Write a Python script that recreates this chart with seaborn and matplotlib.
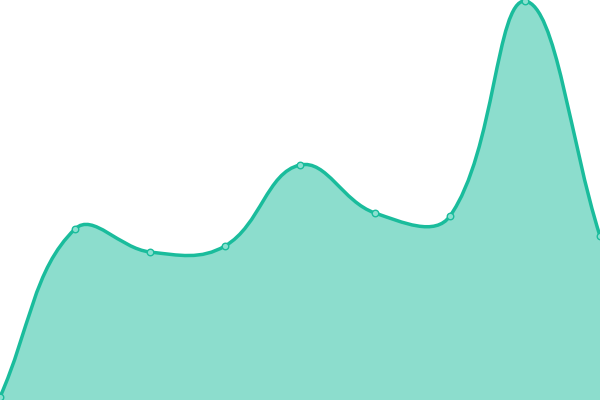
import numpy as np
import pandas as pd
import matplotlib
matplotlib.use("Agg")
import matplotlib.pyplot as plt
from matplotlib.path import Path
from matplotlib.patches import PathPatch
import seaborn as sns

# Data
x_values = [0, 1, 2, 3, 4, 5, 6, 7, 8]
y_values = [3, 171, 148, 154, 235, 187, 184, 399, 164]

LINE = "#1abc9c"
FILL = (26/255, 188/255, 156/255, 0.5)
X_MAX = 8
Y_MAX = 400
W, H = 600, 400
TENSION = 0.4

sns.set_theme(style="white")

fig = plt.figure(figsize=(6, 4), dpi=100)
ax = fig.add_axes([0, 0, 1, 1])
ax.set_xlim(0, X_MAX)
ax.set_ylim(0, Y_MAX)
ax.axis("off")

# Chart.js-like cubic spline control points (computed in pixel space)
px = [v / X_MAX * W for v in x_values]
py = [v / Y_MAX * H for v in y_values]
n = len(px)
cps = []
for i in range(n):
    prev = (px[i - 1], py[i - 1]) if i > 0 else (px[i], py[i])
    cur = (px[i], py[i])
    nxt = (px[i + 1], py[i + 1]) if i < n - 1 else (px[i], py[i])
    d01 = np.hypot(cur[0] - prev[0], cur[1] - prev[1])
    d12 = np.hypot(nxt[0] - cur[0], nxt[1] - cur[1])
    tot = d01 + d12
    s01 = d01 / tot if tot else 0
    s12 = d12 / tot if tot else 0
    fa, fb = TENSION * s01, TENSION * s12
    c_prev = (cur[0] - fa * (nxt[0] - prev[0]), cur[1] - fa * (nxt[1] - prev[1]))
    c_next = (cur[0] + fb * (nxt[0] - prev[0]), cur[1] + fb * (nxt[1] - prev[1]))
    clamp = lambda p: (min(max(p[0], 0), W), min(max(p[1], 0), H))
    cps.append((clamp(c_prev), clamp(c_next)))

def to_data(p):
    return (p[0] / W * X_MAX, p[1] / H * Y_MAX)

verts = [(x_values[0], y_values[0])]
codes = [Path.MOVETO]
for i in range(1, n):
    verts += [to_data(cps[i - 1][1]), to_data(cps[i][0]), (x_values[i], y_values[i])]
    codes += [Path.CURVE4] * 3

line_path = Path(verts, codes)
fill_verts = verts + [(x_values[-1], 0), (x_values[0], 0), verts[0]]
fill_codes = codes + [Path.LINETO, Path.LINETO, Path.CLOSEPOLY]
ax.add_patch(PathPatch(Path(fill_verts, fill_codes), facecolor=FILL, edgecolor="none", zorder=1))
ax.add_patch(PathPatch(line_path, facecolor="none", edgecolor=LINE, linewidth=2.5, zorder=2))

df = pd.DataFrame({"x": x_values, "y": y_values})
sns.scatterplot(data=df, x="x", y="y", ax=ax, s=22, color=FILL[:3], alpha=1,
                facecolor="#8ae0d0", edgecolor=LINE, linewidth=1, zorder=3, legend=False)
ax.set_xlim(0, X_MAX)
ax.set_ylim(0, Y_MAX)
ax.axis("off")

fig.savefig("out.png", dpi=100, facecolor="white")
